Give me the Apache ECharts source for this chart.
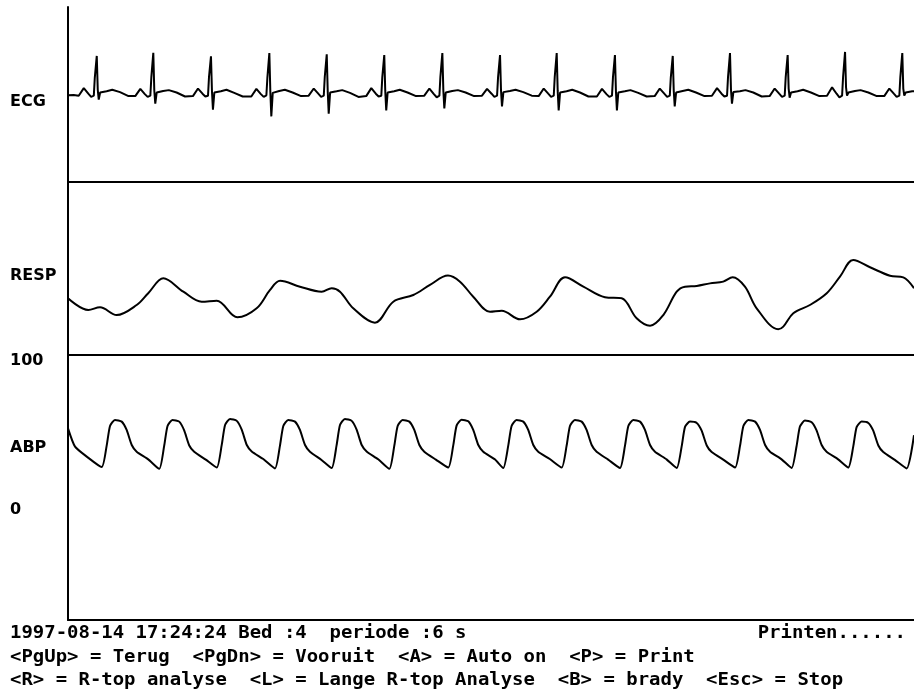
<!DOCTYPE html>
<html>
<head>
<meta charset="utf-8">
<script src="https://cdn.jsdelivr.net/npm/echarts@6/dist/echarts.min.js"></script>
<style>
html,body{margin:0;padding:0;background:#fff;}
#chart{width:914px;height:699px;}
</style>
</head>
<body>
<div id="chart"></div>
<script>
// ECG lead: [time ms, amplitude mV]
const ecgTrace = [
  [0,-0.02],[40,-0.01],
  [76,-0.03],[112,0.16],[144,0.02],[164,-0.06],[183,-0.03],[190,0.42],[197,0.45],[204,0.97],[211,0.12],[218,-0.13],[228,0.05],[274,0.08],[314,0.12],[369,0.06],[429,-0.04],
  [477,-0.04],[513,0.14],[545,0.01],[565,-0.06],[584,-0.03],[591,0.43],[598,0.46],[605,1.05],[612,0.1],[619,-0.23],[629,0.05],[675,0.09],[715,0.11],[770,0.05],[830,-0.05],
  [886,-0.04],[922,0.15],[954,0.02],[974,-0.05],[993,-0.03],[1000,0.44],[1007,0.46],[1014,0.96],[1021,0.08],[1028,-0.38],[1038,0.05],[1084,0.08],[1124,0.12],[1179,0.04],[1239,-0.05],
  [1300,-0.05],[1336,0.14],[1368,0.01],[1388,-0.06],[1407,-0.02],[1414,0.42],[1421,0.45],[1428,1.04],[1435,0.07],[1442,-0.55],[1452,0.04],[1498,0.09],[1538,0.12],[1593,0.05],[1653,-0.04],
  [1707,-0.03],[1743,0.15],[1775,0.02],[1795,-0.06],[1814,-0.03],[1821,0.44],[1828,0.47],[1835,1.01],[1842,0.08],[1849,-0.48],[1859,0.05],[1905,0.08],[1945,0.11],[2000,0.04],[2060,-0.06],
  [2115,-0.04],[2151,0.16],[2183,0.02],[2203,-0.05],[2222,-0.03],[2229,0.43],[2236,0.46],[2243,0.99],[2250,0.09],[2257,-0.40],[2267,0.05],[2313,0.08],[2353,0.12],[2408,0.05],[2468,-0.04],
  [2527,-0.03],[2563,0.15],[2595,0.01],[2615,-0.07],[2634,-0.03],[2641,0.44],[2648,0.47],[2655,1.04],[2662,0.1],[2669,-0.35],[2679,0.05],[2725,0.09],[2765,0.11],[2820,0.05],[2880,-0.04],
  [2936,-0.03],[2972,0.14],[3004,0.02],[3024,-0.06],[3043,-0.03],[3050,0.43],[3057,0.46],[3064,0.99],[3071,0.1],[3078,-0.30],[3088,0.06],[3134,0.09],[3174,0.12],[3229,0.06],[3289,-0.03],
  [3338,-0.04],[3374,0.15],[3406,0.02],[3426,-0.06],[3445,-0.03],[3452,0.44],[3459,0.47],[3466,1.04],[3473,0.09],[3480,-0.40],[3490,0.05],[3536,0.08],[3576,0.12],[3631,0.05],[3691,-0.05],
  [3751,-0.05],[3787,0.14],[3819,0.01],[3839,-0.06],[3858,-0.03],[3865,0.43],[3872,0.46],[3879,0.99],[3886,0.08],[3893,-0.40],[3903,0.05],[3949,0.08],[3989,0.11],[4044,0.04],[4104,-0.05],
  [4161,-0.04],[4197,0.15],[4229,0.02],[4249,-0.06],[4268,-0.03],[4275,0.42],[4282,0.45],[4289,0.97],[4296,0.1],[4303,-0.30],[4313,0.05],[4359,0.09],[4399,0.12],[4454,0.05],[4514,-0.04],
  [4567,-0.03],[4603,0.16],[4635,0.02],[4655,-0.05],[4674,-0.03],[4681,0.44],[4688,0.47],[4695,1.04],[4702,0.12],[4709,-0.23],[4719,0.06],[4765,0.08],[4805,0.11],[4860,0.05],[4920,-0.05],
  [4976,-0.04],[5012,0.15],[5044,0.02],[5064,-0.06],[5083,-0.03],[5090,0.43],[5097,0.46],[5104,0.99],[5111,0.15],[5118,-0.08],[5128,0.05],[5174,0.08],[5214,0.12],[5269,0.05],[5329,-0.04],
  [5383,-0.03],[5419,0.18],[5451,0.02],[5471,-0.07],[5490,-0.03],[5497,0.44],[5504,0.47],[5511,1.07],[5518,0.18],[5525,-0.03],[5535,0.05],[5581,0.09],[5621,0.11],[5676,0.05],[5736,-0.04],
  [5789,-0.04],[5825,0.15],[5857,0.02],[5877,-0.06],[5896,-0.03],[5903,0.43],[5910,0.46],[5917,1.04],[5924,0.15],[5931,-0.03],[5941,0.05],[5987,0.08],[6000,0.08]
];

// Respiration (impedance), relative units: [time ms, value]
const respTrace = [
  [0,32.8],[144,26.0],[227,27.6],[345,23.1],[487,28.9],[569,35.7],[676,44.3],[818,36.6],[948,30.8],[1055,31.4],
  [1201,21.8],[1338,27.0],[1433,37.6],[1504,42.9],[1645,39.5],[1799,36.6],[1870,38.6],[1929,36.6],[2023,27.0],
  [2177,18.7],[2307,30.8],[2449,34.7],[2567,40.5],[2695,45.9],[2780,42.4],[2874,33.7],[2993,25.0],[3076,25.6],
  [3206,20.6],[3324,25.0],[3418,33.7],[3525,44.9],[3655,39.5],[3808,33.4],[3927,32.8],[4033,21.2],[4128,16.9],
  [4222,23.1],[4317,36.6],[4376,39.5],[4459,39.9],[4553,41.4],[4647,42.4],[4714,44.9],[4801,39.5],[4884,27.0],
  [5037,14.9],[5073,16.4],[5144,24.1],[5262,28.9],[5381,35.7],[5475,45.3],[5569,54.9],[5688,50.7],[5830,45.8],
  [5924,44.9],[6000,38.6]
];

// Arterial blood pressure: [time ms, mmHg]
const abpTrace = [
  [0,54.8],[50,42.5],[133,35.8],
  [239,28.8],[274,43.0],[298,56.4],[333,60.4],[381,59.3],[416,53.7],[452,43.6],[487,39.1],[569,34.0],
  [647,27.6],[682,43.0],[706,56.4],[741,60.4],[789,59.3],[824,53.4],[860,43.3],[895,39.1],[977,33.8],
  [1055,28.5],[1090,43.5],[1114,57.0],[1149,61.1],[1197,59.8],[1232,53.9],[1268,43.6],[1303,39.3],[1385,34.2],
  [1468,27.9],[1503,43.0],[1527,56.4],[1562,60.4],[1610,59.3],[1645,53.7],[1681,43.6],[1716,39.1],[1798,33.6],
  [1870,28.2],[1905,43.5],[1929,57.0],[1964,61.1],[2012,59.8],[2047,53.9],[2083,43.6],[2118,39.3],[2200,34.0],
  [2279,27.6],[2314,43.0],[2338,56.4],[2373,60.4],[2421,59.3],[2456,53.7],[2492,43.6],[2527,39.1],[2609,33.8],
  [2697,28.5],[2732,43.2],[2756,56.6],[2791,60.6],[2839,59.5],[2874,53.7],[2910,43.6],[2945,39.1],[3027,34.0],
  [3087,28.2],[3122,43.0],[3146,56.4],[3181,60.4],[3229,59.3],[3264,53.7],[3300,43.6],[3335,39.1],[3417,34.2],
  [3501,28.5],[3536,43.0],[3560,56.4],[3595,60.4],[3643,59.3],[3678,53.7],[3714,43.6],[3749,39.1],[3831,33.8],
  [3915,28.2],[3950,43.0],[3974,56.4],[4009,60.4],[4057,59.3],[4092,53.7],[4128,43.6],[4163,39.1],[4245,34.0],
  [4317,28.2],[4352,42.5],[4376,55.8],[4411,59.3],[4459,58.4],[4494,53.2],[4530,43.3],[4565,38.9],[4647,33.8],
  [4731,28.5],[4766,43.0],[4790,56.4],[4825,60.4],[4873,59.3],[4908,53.7],[4944,43.6],[4979,39.1],[5061,34.0],
  [5132,28.2],[5167,42.8],[5191,56.0],[5226,60.0],[5274,58.9],[5309,53.4],[5345,43.6],[5380,39.1],[5462,34.0],
  [5534,28.5],[5569,42.5],[5593,55.6],[5628,59.3],[5676,58.4],[5711,53.2],[5747,43.3],[5782,38.9],[5864,33.6],
  [5948,27.9],[6000,50.2]
];

const abpScale = [0, 100];
const channelNames = ['ECG', 'RESP', 'ABP'];
const channelLabelY = [102, 276, 448];
const statusLines = [
  '1997-08-14 17:24:24 Bed :4  periode :6 s',
  '<PgUp> = Terug  <PgDn> = Vooruit  <A> = Auto on  <P> = Print',
  '<R> = R-top analyse  <L> = Lange R-top Analyse  <B> = brady  <Esc> = Stop'
];
const statusRight = 'Printen......';

const chart = echarts.init(document.getElementById('chart'), null, { renderer: 'canvas' });

const ink = '#000';
const labelFont = 'bold 16px "DejaVu Sans"';
// status rows use a wide fixed-pitch cell like the monitor's screen font
const statusFont = 'bold 17px "DejaVu Sans Mono"';
const statusStretch = 1.115;

const frameLine = { show: true, onZero: false, lineStyle: { color: ink, width: 2 } };

function xAxisFor(i) {
  return {
    type: 'value', gridIndex: i, min: 0, max: 6000,
    axisLine: frameLine, axisTick: { show: false }, axisLabel: { show: false }, splitLine: { show: false }
  };
}

const option = {
  animation: false,
  backgroundColor: '#fff',
  grid: [
    { left: 68, right: 0, top: 7, height: 175 },
    { left: 68, right: 0, top: 182, height: 173 },
    { left: 68, right: 0, top: 355, height: 265 }
  ],
  xAxis: [xAxisFor(0), xAxisFor(1), xAxisFor(2)],
  yAxis: [
    { type: 'value', gridIndex: 0, min: -2.2, max: 2.2, axisLine: frameLine,
      axisTick: { show: false }, axisLabel: { show: false }, splitLine: { show: false } },
    { type: 'value', gridIndex: 1, min: 0, max: 100, axisLine: frameLine,
      axisTick: { show: false }, axisLabel: { show: false }, splitLine: { show: false } },
    { type: 'value', gridIndex: 2, min: -73.8, max: 104, axisLine: frameLine,
      axisTick: { show: false }, splitLine: { show: false },
      axisLabel: {
        show: true, customValues: abpScale, align: 'left', margin: 58,
        color: ink, fontFamily: 'DejaVu Sans', fontWeight: 'bold', fontSize: 16,
        showMinLabel: true, showMaxLabel: true
      } }
  ],
  series: [
    { name: 'ECG', type: 'line', xAxisIndex: 0, yAxisIndex: 0, data: ecgTrace,
      showSymbol: false, smooth: false, lineStyle: { color: ink, width: 2 }, silent: true },
    { name: 'RESP', type: 'line', xAxisIndex: 1, yAxisIndex: 1, data: respTrace,
      showSymbol: false, smooth: 0.35, lineStyle: { color: ink, width: 2 }, silent: true },
    { name: 'ABP', type: 'line', xAxisIndex: 2, yAxisIndex: 2, data: abpTrace,
      showSymbol: false, smooth: 0.2, lineStyle: { color: ink, width: 2 }, silent: true }
  ],
  graphic: [
    ...channelNames.map((name, i) => ({
      type: 'text', x: 10, y: channelLabelY[i],
      style: { text: name, font: labelFont, fill: ink, verticalAlign: 'middle' }
    })),
    ...statusLines.map((line, i) => ({
      type: 'text', x: 10, y: 634 + i * 23.5, scaleX: statusStretch,
      style: { text: line, font: statusFont, fill: ink, verticalAlign: 'middle' }
    })),
    { type: 'text', x: 906, y: 634, scaleX: statusStretch,
      style: { text: statusRight, font: statusFont, fill: ink, align: 'right', verticalAlign: 'middle' } }
  ]
};

chart.setOption(option);
</script>
</body>
</html>
